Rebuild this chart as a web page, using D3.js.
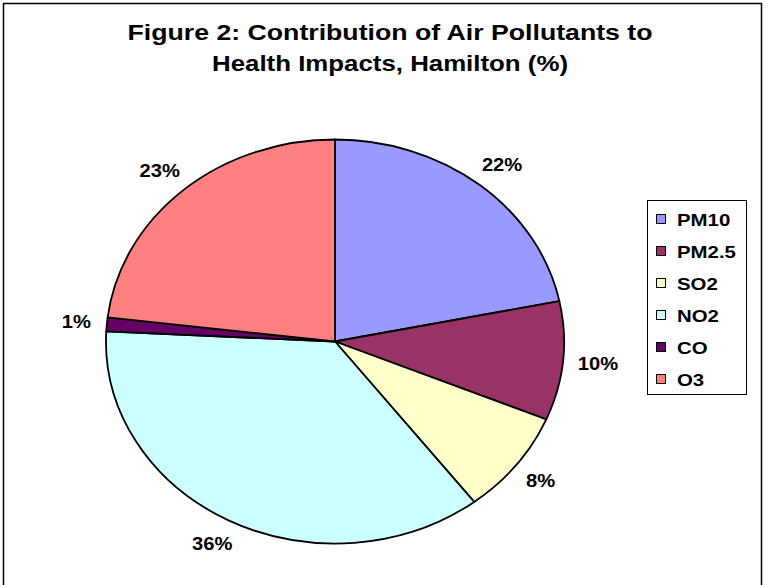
<!DOCTYPE html>
<html>
<head>
<meta charset="utf-8">
<script src="https://cdn.jsdelivr.net/npm/d3@7/dist/d3.min.js"></script>
<style>
  html, body { margin: 0; padding: 0; background: #fff; }
  svg { display: block; font-family: "Liberation Sans", Arial, sans-serif; }
</style>
</head>
<body>
<svg id="chart" width="771" height="585"></svg>
<script>
const titleLines = ["Figure 2: Contribution of Air Pollutants to", "Health Impacts, Hamilton (%)"];
const categories = ["PM10", "PM2.5", "SO2", "NO2", "CO", "O3"];
const values = [21.8, 9.5, 8.3, 36.2, 1.1, 23.1];
const labels = ["22%", "10%", "8%", "36%", "1%", "23%"];
const colors = ["#9999FF", "#993366", "#FFFFCC", "#CCFFFF", "#660066", "#FF8080"];

const svg = d3.select("#chart");

// outer frame
svg.append("rect").attr("x", 3.5).attr("y", 3.5).attr("width", 758).attr("height", 620)
  .attr("fill", "#fff").attr("stroke", "#000").attr("stroke-width", 1.5);

// title
const titleX = 390;
svg.append("text").attr("x", titleX).attr("y", 40).attr("text-anchor", "middle")
  .attr("font-weight", "bold").attr("font-size", 22)
  .attr("textLength", 525).attr("lengthAdjust", "spacingAndGlyphs")
  .text(titleLines[0]);
svg.append("text").attr("x", titleX).attr("y", 71).attr("text-anchor", "middle")
  .attr("font-weight", "bold").attr("font-size", 22)
  .attr("textLength", 356).attr("lengthAdjust", "spacingAndGlyphs")
  .text(titleLines[1]);

// pie (elliptical: circle stretched horizontally)
const cx = 335, cy = 341.5, rx = 229, ry = 202;
const pie = d3.pie().value(d => d).sort(null);
const arcs = pie(values);
const arc = d3.arc().innerRadius(0).outerRadius(ry);
const g = svg.append("g").attr("transform", `translate(${cx},${cy}) scale(${rx/ry},1)`);
g.selectAll("path").data(arcs).enter().append("path")
  .attr("d", arc)
  .attr("fill", (d, i) => colors[i])
  .attr("stroke", "#000")
  .attr("stroke-width", 1.8)
  .attr("vector-effect", "non-scaling-stroke")
  .attr("stroke-linejoin", "round");

// data labels
const gap = 19;
const lab = svg.append("g");
arcs.forEach((d, i) => {
  const a = (d.startAngle + d.endAngle) / 2;
  const s = Math.sin(a), c = Math.cos(a);
  const t = lab.append("text").attr("font-weight", "bold").attr("font-size", 18)
    .attr("text-anchor", "middle").attr("dominant-baseline", "central")
    .text(labels[i]);
  const wTxt = t.node().getComputedTextLength() * 1.12;
  t.attr("textLength", wTxt).attr("lengthAdjust", "spacingAndGlyphs");
  const hTxt = 15;
  const px = cx + (rx + gap) * s + (wTxt / 2) * s * 0.8;
  const py = cy - (ry + gap) * c - (hTxt / 2) * c;
  t.attr("x", px).attr("y", py);
});

// legend
const lg = svg.append("g");
lg.append("rect").attr("x", 647.5).attr("y", 200.5).attr("width", 99).attr("height", 194)
  .attr("fill", "#fff").attr("stroke", "#000").attr("stroke-width", 1);
const ly = d3.scalePoint().domain(categories).range([219, 379]);
categories.forEach((cat, i) => {
  const y = ly(cat);
  lg.append("rect").attr("x", 656.5).attr("y", y - 4.5).attr("width", 9).attr("height", 9)
    .attr("fill", colors[i]).attr("stroke", "#000").attr("stroke-width", 1);
  const t = lg.append("text").attr("x", 677).attr("y", y + 1).attr("dominant-baseline", "central")
    .attr("font-weight", "bold").attr("font-size", 17).text(cat);
  const w = t.node().getComputedTextLength() * 1.2;
  t.attr("textLength", w).attr("lengthAdjust", "spacingAndGlyphs");
});
</script>
</body>
</html>
